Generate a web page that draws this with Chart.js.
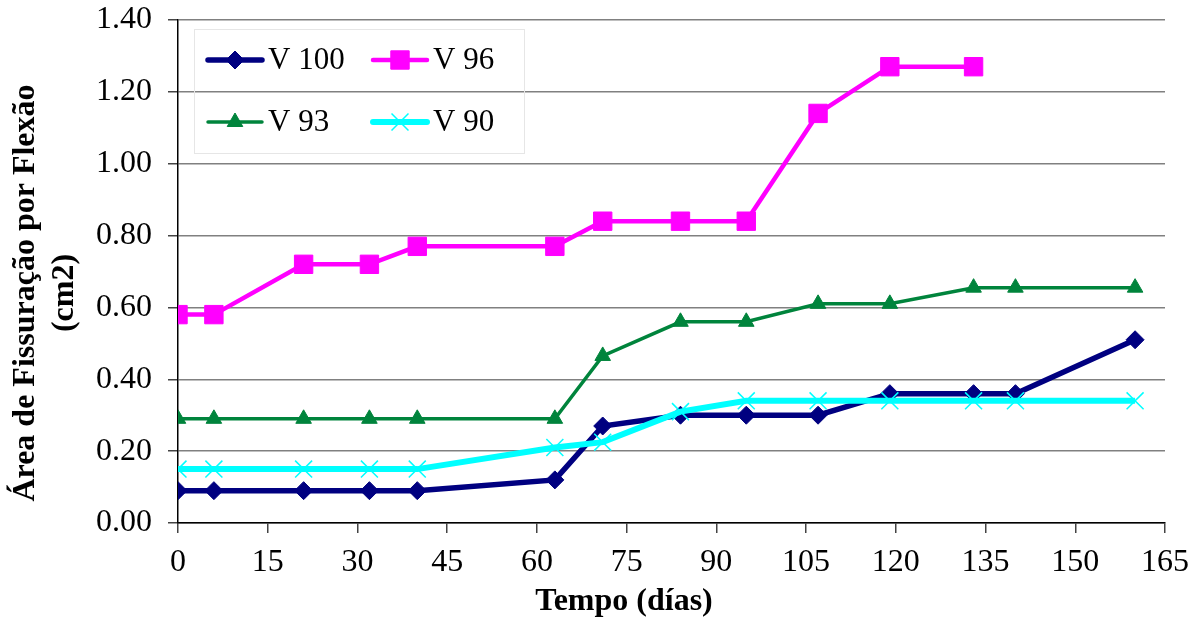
<!DOCTYPE html>
<html>
<head>
<meta charset="utf-8">
<script src="https://cdn.jsdelivr.net/npm/chart.js@4.4.0/dist/chart.umd.min.js"></script>
<style>
    html, body { margin: 0; padding: 0; background: #fff; }
</style>
</head>
<body>
<canvas id="grafico" width="1200" height="618"></canvas>
<script>
// Datos
const dias = [0, 6, 21, 32, 40, 63, 71, 84, 95, 107, 119, 133, 140, 160];
const v100 = [0.09, 0.09, 0.09, 0.09, 0.09, 0.12, 0.27, 0.30, 0.30, 0.30, 0.36, 0.36, 0.36, 0.51];
const v96 = [0.58, 0.58, 0.72, 0.72, 0.77, 0.77, 0.84, 0.84, 0.84, 1.14, 1.27, 1.27];
const v93 = [0.29, 0.29, 0.29, 0.29, 0.29, 0.29, 0.465, 0.56, 0.56, 0.61, 0.61, 0.655, 0.655, 0.655];
const v90 = [0.15, 0.15, 0.15, 0.15, 0.15, 0.21, 0.225, 0.31, 0.34, 0.34, 0.34, 0.34, 0.34, 0.34];
const nombres = ['V 100', 'V 96', 'V 93', 'V 90'];
const ticksX = [0, 15, 30, 45, 60, 75, 90, 105, 120, 135, 150, 165];
const ticksY = [0, 0.2, 0.4, 0.6, 0.8, 1.0, 1.2, 1.4];
const tituloX = 'Tempo (días)';
const tituloY = ['Área de Fissuração por Flexão', '(cm2)'];

const FUENTE = '"Liberation Serif", "Times New Roman", serif';

function puntos(valores) {
    return valores.map((v, i) => ({ x: dias[i], y: v }));
}

// Leyenda dentro del área del gráfico (como en Excel)
const leyendaPlugin = {
    id: 'leyenda',
    afterDraw(chart) {
        const ctx = chart.ctx;
        ctx.save();
        ctx.strokeStyle = '#e6e6e6';
        ctx.lineWidth = 1;
        ctx.strokeRect(194.5, 29.5, 330, 124);

        const posiciones = [[208, 60], [373, 60], [208, 122], [373, 122]];
        posiciones.forEach((p, i) => {
            const ds = chart.data.datasets[i];
            ctx.strokeStyle = ds.borderColor;
            ctx.lineWidth = ds.borderWidth;
            ctx.lineCap = 'round';
            ctx.beginPath();
            ctx.moveTo(p[0], p[1]);
            ctx.lineTo(p[0] + 54, p[1]);
            ctx.stroke();

            ctx.fillStyle = ds.pointBackgroundColor;
            ctx.strokeStyle = ds.pointBorderColor;
            ctx.lineWidth = ds.pointBorderWidth;
            ctx.lineCap = 'butt';
            Chart.helpers.drawPoint(ctx, {
                pointStyle: ds.pointStyle,
                radius: ds.pointRadius,
                rotation: 0,
                borderWidth: ds.pointBorderWidth
            }, p[0] + 27, p[1]);

            ctx.fillStyle = '#000';
            ctx.font = '31px ' + FUENTE;
            ctx.textBaseline = 'middle';
            ctx.textAlign = 'left';
            ctx.fillText(ds.label, p[0] + 60, p[1] + 1);
        });
        ctx.restore();
    }
};

// Títulos de los ejes
const titulosPlugin = {
    id: 'titulos',
    afterDraw(chart) {
        const ctx = chart.ctx;
        ctx.save();
        ctx.fillStyle = '#000';
        ctx.font = 'bold 32px ' + FUENTE;
        ctx.textAlign = 'center';
        ctx.textBaseline = 'middle';
        ctx.fillText(tituloX, 624, 602);

        ctx.translate(0, 293);
        ctx.rotate(-Math.PI / 2);
        ctx.fillText(tituloY[0], 0, 26);
        ctx.fillText(tituloY[1], 0, 65);
        ctx.restore();
    }
};

const ctx = document.getElementById('grafico').getContext('2d');
const grafico = new Chart(ctx, {
    type: 'line',
    data: {
        datasets: [
            {
                label: nombres[0],
                data: puntos(v100),
                borderColor: '#000080',
                borderWidth: 5.5,
                pointStyle: 'rectRot',
                pointRadius: 9,
                pointBackgroundColor: '#000080',
                pointBorderColor: '#000080',
                pointBorderWidth: 1,
                order: 3
            },
            {
                label: nombres[1],
                data: puntos(v96),
                borderColor: '#ff00ff',
                borderWidth: 4.5,
                pointStyle: 'rect',
                pointRadius: 13,
                pointBackgroundColor: '#ff00ff',
                pointBorderColor: '#ff00ff',
                pointBorderWidth: 1,
                order: 2
            },
            {
                label: nombres[2],
                data: puntos(v93),
                borderColor: '#00843c',
                borderWidth: 3.5,
                pointStyle: 'triangle',
                pointRadius: 9,
                pointBackgroundColor: '#00843c',
                pointBorderColor: '#00843c',
                pointBorderWidth: 1,
                order: 1
            },
            {
                label: nombres[3],
                data: puntos(v90),
                borderColor: '#00ffff',
                borderWidth: 6,
                pointStyle: 'crossRot',
                pointRadius: 12,
                pointBackgroundColor: '#00ffff',
                pointBorderColor: '#00ffff',
                pointBorderWidth: 1.5,
                order: 0
            }
        ]
    },
    options: {
        responsive: false,
        animation: false,
        devicePixelRatio: 1,
        layout: { padding: { top: 0, right: 35, left: 0, bottom: 0 } },
        elements: { line: { tension: 0 } },
        plugins: {
            legend: { display: false },
            tooltip: { enabled: false }
        },
        scales: {
            x: {
                type: 'linear',
                min: 0,
                max: 165,
                afterBuildTicks: s => { s.ticks = ticksX.map(v => ({ value: v })); },
                afterFit: s => { s.height = 95; },
                border: { color: '#000', width: 1.5 },
                grid: {
                    drawOnChartArea: false,
                    drawTicks: true,
                    tickLength: 10,
                    tickColor: '#444',
                    lineWidth: 1.5
                },
                ticks: {
                    color: '#000',
                    font: { family: FUENTE, size: 32 },
                    padding: 10,
                    maxRotation: 0,
                    autoSkip: false
                }
            },
            y: {
                min: 0,
                max: 1.4,
                afterBuildTicks: s => { s.ticks = ticksY.map(v => ({ value: v })); },
                afterFit: s => { s.width = 178; },
                border: { color: '#000', width: 1.5 },
                grid: {
                    color: '#808080',
                    lineWidth: 1.5,
                    drawTicks: true,
                    tickLength: 10,
                    tickColor: '#444'
                },
                ticks: {
                    color: '#000',
                    font: { family: FUENTE, size: 32, lineHeight: 0.25 },
                    padding: 16,
                    callback: v => Number(v).toFixed(2)
                }
            }
        }
    },
    plugins: [leyendaPlugin, titulosPlugin]
});
</script>
</body>
</html>
